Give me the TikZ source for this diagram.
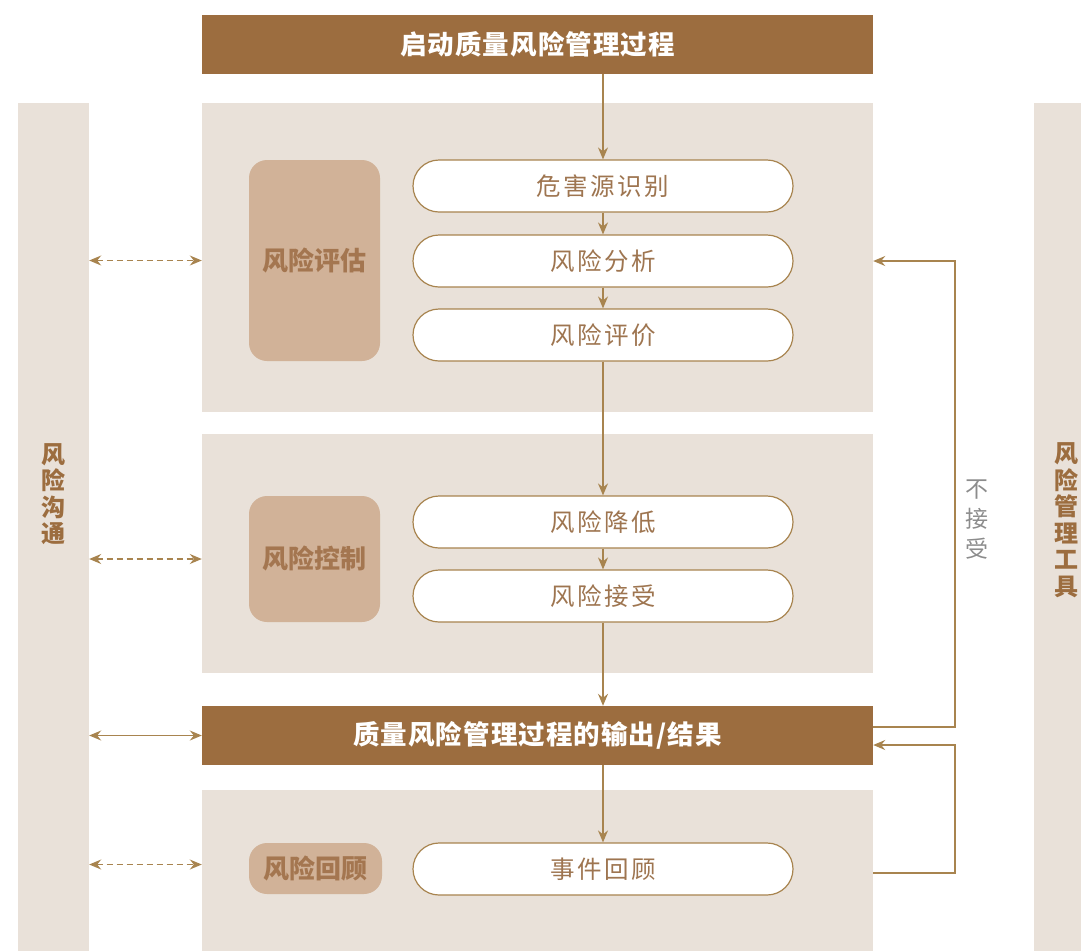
\documentclass[tikz,border=0pt]{standalone}
\usepackage{fontspec}
\setmainfont{Noto Sans CJK SC}
\usetikzlibrary{arrows.meta}

\definecolor{barbrown}{HTML}{9C6D3F}
\definecolor{panelbg}{HTML}{E9E1D9}
\definecolor{tagbg}{HTML}{D1B298}
\definecolor{tagtext}{HTML}{A47650}
\definecolor{linegold}{HTML}{A8844F}
\definecolor{pilltext}{HTML}{9E7550}
\definecolor{notegray}{HTML}{8C8C8C}

\tikzset{
  bar/.style={fill=barbrown,text=white,inner sep=0,minimum width=671,minimum height=59,
    font=\bfseries\fontsize{26.5}{26.5}\selectfont\addfontfeature{LetterSpace=4}},
  panel/.style={fill=panelbg,inner sep=0,minimum width=671},
  column/.style={fill=panelbg,inner sep=0,minimum height=848},
  tag/.style={fill=tagbg,text=tagtext,rounded corners=18,inner sep=0,minimum width=131,
    font=\bfseries\fontsize{26}{26}\selectfont},
  pill/.style={draw=linegold,line width=1.2pt,fill=white,text=pilltext,rounded corners=26,
    inner sep=0,minimum width=380,minimum height=52,
    font=\fontsize{24.5}{24.5}\selectfont\addfontfeature{LetterSpace=10}},
  vlabel/.style={text=barbrown,align=center,font=\bfseries\fontsize{24}{26.5}\selectfont},
  tip/.tip={Stealth[length=12pt,width=10pt,inset=4pt]},
  flow/.style={draw=linegold,line width=1.4pt,-tip},
  talk/.style={draw=linegold,line width=1.4pt,tip-tip},
}

\begin{document}
\begin{tikzpicture}[x=1pt,y=-1pt]
  \useasboundingbox (0,0) rectangle (1081,951);

  % side columns
  \node[column,minimum width=71] (comm) at (53.5,527) {};
  \node[column,minimum width=47] (tools) at (1057.5,527) {};
  \node[vlabel] (commtext) at (53.5,494) {风\\险\\沟\\通};
  \node[vlabel] (toolstext) at (1066,520) {风\\险\\管\\理\\工\\具};

  % panels
  \node[panel,minimum height=309] (assesspanel) at (537.5,257.5) {};
  \node[panel,minimum height=239] (controlpanel) at (537.5,553.5) {};
  \node[panel,minimum height=161] (reviewpanel) at (537.5,870.5) {};

  % bars
  \node[bar] (start) at (537.5,44.5) {启动质量风险管理过程};
  \node[bar] (output) at (537.5,735.5) {质量风险管理过程的输出/结果};

  % tags
  \node[tag,minimum height=201] (assess) at (314.5,260.5) {风险评估};
  \node[tag,minimum height=126] (control) at (314.5,559) {风险控制};
  \node[tag,minimum height=51,minimum width=133] (review) at (315.5,868.5) {风险回顾};

  % steps
  \node[pill] (hazard) at (603,186) {危害源识别};
  \node[pill] (analysis) at (603,261) {风险分析};
  \node[pill] (evaluation) at (603,335) {风险评价};
  \node[pill] (reduction) at (603,522) {风险降低};
  \node[pill] (acceptance) at (603,596) {风险接受};
  \node[pill] (event) at (603,869) {事件回顾};

  % main flow
  \draw[flow] (start.south -| hazard) -- (hazard);
  \draw[flow] (hazard) -- (analysis);
  \draw[flow] (analysis) -- (evaluation);
  \draw[flow] (evaluation) -- (reduction);
  \draw[flow] (reduction) -- (acceptance);
  \draw[flow] (acceptance) -- (acceptance |- output.north);
  \draw[flow] (output.south -| event) -- (event);

  % communication
  \draw[talk,dash pattern=on 6pt off 4pt] (assess -| comm.east) -- (assess -| assesspanel.west);
  \draw[talk,dash pattern=on 6pt off 4pt] (control -| comm.east) -- (control -| controlpanel.west);
  \draw[talk] (output -| comm.east) -- (output.west);
  \draw[talk,dash pattern=on 6pt off 4pt] ([yshift=4]review -| comm.east) -- ([yshift=4]review -| reviewpanel.west);

  % feedback loops
  \coordinate (loop) at (955,0);
  \coordinate (outin) at ([yshift=-9.5]output.east);
  \draw[flow] ([yshift=8.5]output.east) -| (loop |- analysis) -- (analysis -| assesspanel.east);
  \draw[flow] ([yshift=-4]event -| reviewpanel.east) -| (loop |- outin) -- (outin);
  \node[text=notegray,align=center,font=\fontsize{23}{30}\selectfont] (refuse) at (977,520) {不\\接\\受};
\end{tikzpicture}
\end{document}
